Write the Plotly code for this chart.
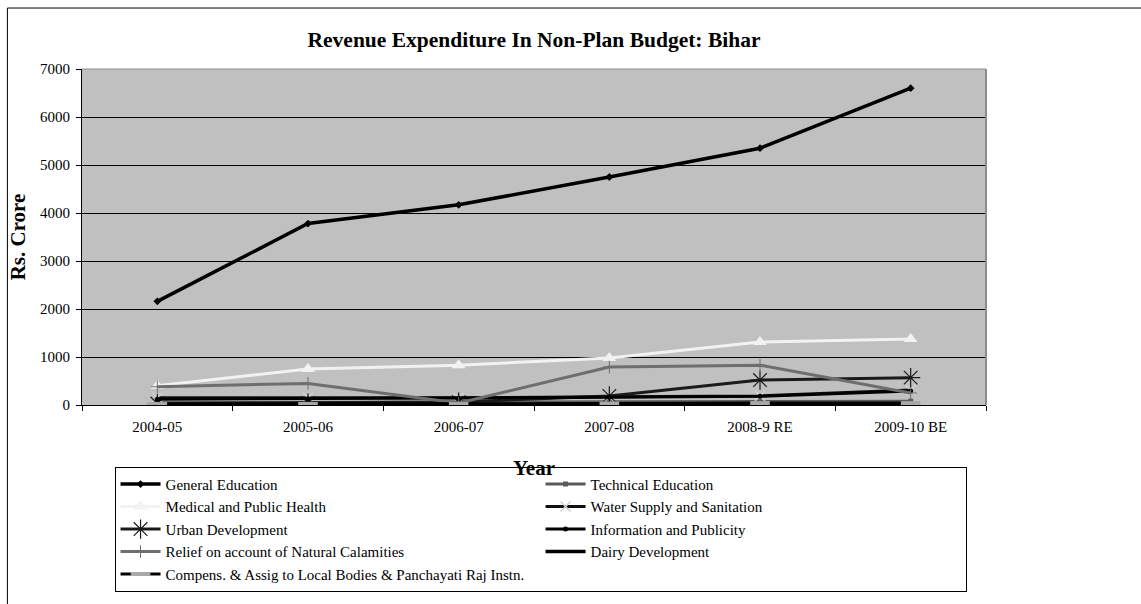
import plotly.graph_objects as go

years = ["2004-05", "2005-06", "2006-07", "2007-08", "2008-9 RE", "2009-10 BE"]

general_education = [2160, 3780, 4170, 4750, 5350, 6600]
technical_education = [45, 50, 55, 60, 70, 80]
medical_public_health = [400, 750, 830, 980, 1310, 1375]
water_supply_sanitation = [150, 150, 150, 170, 190, 310]
urban_development = [30, 40, 60, 190, 520, 570]
information_publicity = [120, 130, 140, 160, 180, 290]
relief_calamities = [380, 450, 40, 790, 830, 250]
dairy_development = [10, 10, 10, 10, 10, 10]
compens_local_bodies = [20, 20, 20, 30, 40, 40]

series = [
    ("General Education", general_education,
     dict(color="#000000", width=3.5), dict(symbol="diamond", size=6, color="#000000")),
    ("Technical Education", technical_education,
     dict(color="#5a5a5a", width=3), dict(symbol="square", size=5, color="#5a5a5a")),
    ("Medical and Public Health", medical_public_health,
     dict(color="#f2f2f2", width=3), dict(symbol="triangle-up", size=12, color="#f2f2f2")),
    ("Water Supply and Sanitation", water_supply_sanitation,
     dict(color="#111111", width=3),
     dict(symbol="x-thin-open", size=10, color="#d0d0d0", line=dict(color="#d0d0d0", width=1.5))),
    ("Urban Development", urban_development,
     dict(color="#1a1a1a", width=3),
     dict(symbol="asterisk-open", size=16, color="#1a1a1a", line=dict(color="#1a1a1a", width=1.2))),
    ("Information and Publicity", information_publicity,
     dict(color="#000000", width=3), dict(symbol="circle", size=5, color="#000000")),
    ("Relief on account of Natural Calamities", relief_calamities,
     dict(color="#6e6e6e", width=3),
     dict(symbol="cross-thin-open", size=9, color="#6e6e6e", line=dict(color="#4a4a4a", width=1))),
    ("Dairy Development", dairy_development,
     dict(color="#000000", width=3.5), dict(size=1, color="#000000", opacity=0)),
    ("Compens. & Assig to Local Bodies & Panchayati Raj Instn.", compens_local_bodies,
     dict(color="#000000", width=3),
     dict(symbol="line-ew-open", size=14, color="#a8a8a8", line=dict(color="#a8a8a8", width=4))),
]

fig = go.Figure()
for name, values, line, marker in series:
    fig.add_trace(go.Scatter(
        x=years, y=values, name=name, mode="lines+markers",
        line=line, marker=marker,
    ))

serif = "Liberation Serif, Times New Roman, serif"

fig.update_layout(
    width=1141, height=604,
    margin=dict(l=82, r=155, t=69, b=199, autoexpand=False),
    paper_bgcolor="white",
    plot_bgcolor="#c0c0c0",
    font=dict(family=serif, size=15, color="#000000"),
    title=dict(
        text="<b>Revenue Expenditure In Non-Plan Budget: Bihar</b>",
        xref="paper", x=0.5, xanchor="center",
        yref="container", y=0.934, yanchor="middle",
        font=dict(family=serif, size=21.5, color="#000000"),
    ),
    showlegend=True,
    legend=dict(
        orientation="h",
        x=0.036, xanchor="left", y=-0.184, yanchor="top",
        entrywidth=370, entrywidthmode="pixels",
        bgcolor="white", bordercolor="#000000", borderwidth=1,
        font=dict(family=serif, size=15, color="#000000"),
        itemwidth=40, traceorder="normal",
    ),
    xaxis=dict(
        type="category", range=[-0.5, 5.5],
        showline=True, linecolor="#000000", linewidth=1,
        ticks="outside", tickson="boundaries", ticklen=5, tickcolor="#000000",
        ticklabelstandoff=8,
        showgrid=False, tickfont=dict(family=serif, size=15),
        title=dict(text="<b>Year</b>", font=dict(family=serif, size=21), standoff=26),
    ),
    yaxis=dict(
        range=[0, 7000], dtick=1000,
        showline=True, linecolor="#000000", linewidth=1,
        ticks="outside", ticklen=5, tickcolor="#000000",
        ticklabelstandoff=3,
        showgrid=True, gridcolor="#000000", gridwidth=1,
        zeroline=False, tickfont=dict(family=serif, size=15),
        title=dict(text="<b>Rs. Crore</b>", font=dict(family=serif, size=21), standoff=8),
    ),
    shapes=[
        # outer chart frame
        dict(type="rect", xref="paper", yref="paper",
             x0=-0.0825, x1=1.2, y0=-1.0, y1=1.1815,
             line=dict(color="#000000", width=1), fillcolor="rgba(0,0,0,0)", layer="below"),
        # right and top edges of plot area
        dict(type="line", xref="paper", yref="paper", x0=1, x1=1, y0=0, y1=1,
             line=dict(color="#8c8c8c", width=2)),
        dict(type="line", xref="paper", yref="paper", x0=0, x1=1, y0=1, y1=1,
             line=dict(color="#8c8c8c", width=1)),
    ],
)

fig.write_html("out.html")
